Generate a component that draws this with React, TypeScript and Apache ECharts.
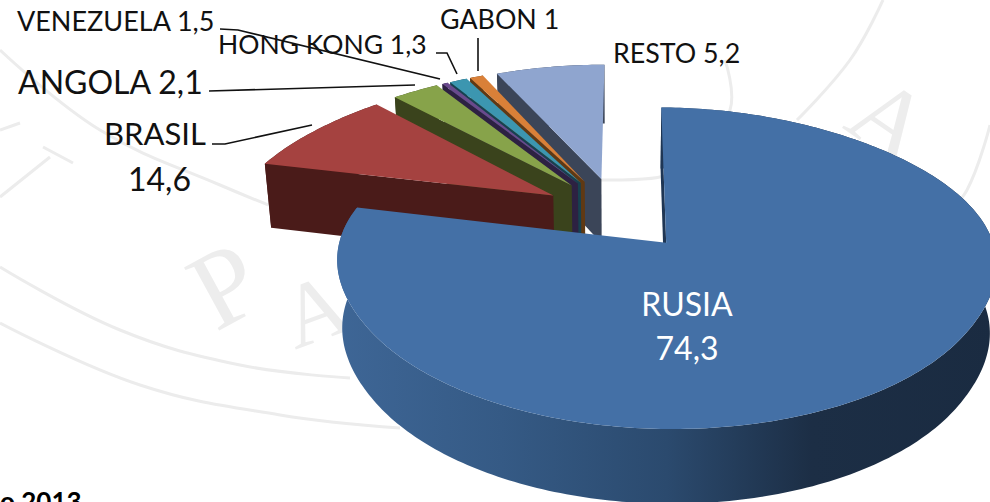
import React, { useEffect, useRef } from "react";
import * as echarts from "echarts";

const names = ["RUSIA", "BRASIL", "ANGOLA", "VENEZUELA", "HONG KONG", "GABON", "RESTO"];
const values = [74.3, 14.6, 2.1, 1.5, 1.3, 1, 5.2];
const topColors = ["#4470a6", "#a54240", "#87a34a", "#6a4a8c", "#3c96b0", "#d98038", "#8fa5cf"];
const sideColors = ["#2b4a6e", "#4a1b19", "#3a431c", "#2d2142", "#17414f", "#603913", "#3b4558"];

// the reference's oblique view squeezes and widens slices: cumulative share -> seen angle
const viewShare = [0, 74.3, 88.9, 91, 92.5, 94.8, 100];
const viewAngle = [1, 282.8, 315.7, 326.3, 327.6, 334.7, 360];

const CX = 617, CY = 213, A = 322, B = 158, K_FAR = 0.25, K_NEAR = 0.125, EXPLODE = 0.232;
const FIRST_RADIUS = 0.985, FIRST_SHIFT = 0.005;
const fmt = (v: number) => String(v).replace(".", ",");

function seen(share: number) {
  for (let i = 1; i < viewShare.length; i++) {
    if (share <= viewShare[i] + 1e-9) {
      const t = (share - viewShare[i - 1]) / (viewShare[i] - viewShare[i - 1]);
      return viewAngle[i - 1] + t * (viewAngle[i] - viewAngle[i - 1]);
    }
  }
  return 360;
}
function top(u: number, v: number) {
  const t = Math.min(1, Math.max(0, (v + 0.7) / 1.4));
  const k = K_NEAR + (K_FAR - K_NEAR) * t * t * (3 - 2 * t);
  const w = 1 + k * v;
  return [CX + (A * u) / w, CY - (B * v) / w];
}
function bottom(u: number, v: number) {
  const p = top(u, v);
  return [CX + (p[0] - CX) * 0.982, p[1] + 66 / (1 + 0.1 * v)];
}
const rad = (d: number) => (d * Math.PI) / 180;

function renderSlice(params: any, api: any) {
  const i = names.length - 1 - params.dataIndex;
  const value = api.value(0);
  let before = 0;
  for (let j = 0; j < i; j++) before += values[j];
  const a = seen(before);
  const b = seen(before + value);
  const mid = rad((a + b) / 2);
  const ox = EXPLODE * Math.sin(mid) + (i === 0 ? FIRST_SHIFT : 0);
  const oy = EXPLODE * Math.cos(mid);
  const r = i === 0 ? FIRST_RADIUS : 1;
  const arc: number[][] = [];
  const n = Math.max(4, Math.ceil(b - a));
  for (let s = 0; s <= n; s++) {
    const t = rad(a + ((b - a) * s) / n);
    arc.push([ox + r * Math.sin(t), oy + r * Math.cos(t)]);
  }
  const T = (p: number[]) => top(p[0], p[1]);
  const Bt = (p: number[]) => bottom(p[0], p[1]);
  const apex = [ox, oy];
  const side = sideColors[i];
  const wallFill: any =
    i === 0
      ? {
          type: "linear", x: 0, y: 0, x2: 1, y2: 0,
          colorStops: [
            { offset: 0, color: "#3e6696" },
            { offset: 0.25, color: "#355a85" },
            { offset: 0.5, color: "#2b4a6e" },
            { offset: 0.72, color: "#1c2e45" },
            { offset: 1, color: "#1a2b41" },
          ],
        }
      : side;
  const children: any[] = [
    {
      type: "polygon",
      shape: { points: [...arc.map(T), ...arc.slice().reverse().map(Bt)] },
      style: { fill: wallFill },
    },
    {
      type: "polygon",
      shape: { points: [T(apex), T(arc[0]), Bt(arc[0]), Bt(apex)] },
      style: { fill: i === 0 ? "#1f3654" : side },
    },
    {
      type: "polygon",
      shape: { points: [T(apex), ...arc.map(T)] },
      style: { fill: topColors[i] },
    },
  ];
  return { type: "group", children };
}

type Lab = { t: string; x: number; y: number; s: number; c?: string; al?: string };
const labels: Lab[] = [
  { t: `${names[3]} ${fmt(values[3])}`, x: 17, y: 20, s: 27 },
  { t: `${names[4]} ${fmt(values[4])}`, x: 218, y: 44, s: 26.5 },
  { t: `${names[5]} ${fmt(values[5])}`, x: 440, y: 19, s: 26.8 },
  { t: `${names[6]} ${fmt(values[6])}`, x: 613, y: 53, s: 26.8 },
  { t: `${names[2]} ${fmt(values[2])}`, x: 18, y: 81, s: 32 },
  { t: names[1], x: 104, y: 133, s: 31 },
  { t: fmt(values[1]), x: 128, y: 178, s: 32 },
  { t: names[0], x: 687, y: 303, s: 32, c: "#ffffff", al: "center" },
  { t: fmt(values[0]), x: 687, y: 347, s: 32, c: "#ffffff", al: "center" },
];
const leaders = [
  [[220, 29], [238, 30], [440, 79]],
  [[436, 53], [447, 53], [457, 74]],
  [[478, 38], [478, 71]],
  [[209, 91], [415, 85]],
  [[212, 144], [225, 144], [312, 125]],
];
const seal = [
  [[0, 50], [100, 130], [220, 185], [345, 235]],
  [[0, 267], [120, 330], [240, 365], [350, 378]],
  [[0, 323], [140, 385], [280, 415], [400, 428]],
  [[883, 0], [850, 60], [797, 120]],
  [[990, 125], [967, 190], [940, 220]],
  [[725, 60], [730, 110], [690, 165], [617, 180], [480, 170]],
  [[0, 130], [20, 123]],
  [[43, 147], [73, 163]],
  [[0, 197], [50, 157]],
];
const sealLetters = [
  { t: "P", x: 225, y: 285, s: 110, r: 0.5 },
  { t: "A", x: 315, y: 310, s: 90, r: 0.35 },
  { t: "A", x: 890, y: 120, s: 100, r: -0.6 },
];

export default function App() {
  const ref = useRef<HTMLDivElement>(null);
  useEffect(() => {
    const chart = echarts.init(ref.current!, undefined, { renderer: "svg" });
    chart.setOption({
      animation: false,
      backgroundColor: "#ffffff",
      graphic: [
        ...seal.map((pts) => ({
          type: "polyline", z: -1, silent: true,
          shape: { points: pts, smooth: 0.4 },
          style: { stroke: "#ececec", lineWidth: 3, fill: "none" },
        })),
        ...sealLetters.map((l) => ({
          type: "text", z: -1, silent: true, x: l.x, y: l.y, rotation: l.r,
          style: { text: l.t, font: `${l.s}px "Liberation Serif"`, fill: "#ededed", align: "center", verticalAlign: "middle" },
        })),
        ...leaders.map((pts) => ({
          type: "polyline", z: 10, silent: true,
          shape: { points: pts },
          style: { stroke: "#111111", lineWidth: 1.6, fill: "none" },
        })),
        ...labels.map((l) => ({
          type: "text", z: 11, silent: true, x: l.x, y: l.y,
          style: {
            text: l.t, font: `${l.s}px Lato`, fill: l.c ?? "#111111",
            align: l.al ?? "left", verticalAlign: "middle",
          },
        })),
        {
          type: "text", z: 11, silent: true, x: 0, y: 488,
          style: { text: "o 2013", font: 'bold 26px Lato', fill: "#000000", align: "left", verticalAlign: "top" },
        },
      ],
      series: [
        {
          type: "custom",
          coordinateSystem: "none",
          silent: true,
          renderItem: renderSlice,
          data: values.slice().reverse().map((v) => [v]),
        },
      ],
    });
    return () => chart.dispose();
  }, []);
  return <div ref={ref} style={{ position: "fixed", left: 0, top: 0, width: 990, height: 502 }} />;
}
